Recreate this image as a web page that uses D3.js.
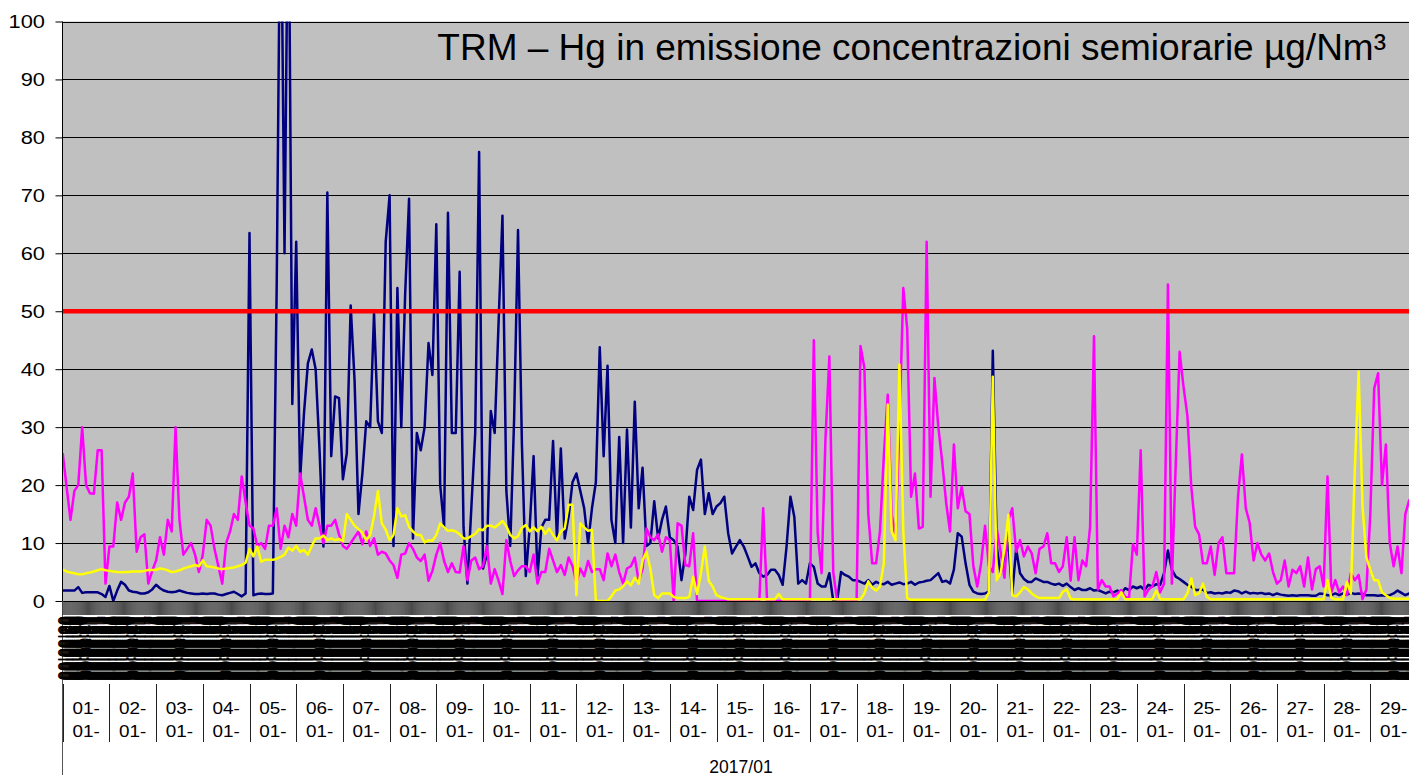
<!DOCTYPE html>
<html>
<head>
<meta charset="utf-8">
<script src="https://cdn.jsdelivr.net/npm/d3@7"></script>
<style>
  body { margin: 0; background: #fff; }
  svg { display: block; }
  text { font-family: "Liberation Sans", Arial, sans-serif; fill: #000; }
</style>
</head>
<body>
<div id="chart"></div>
<script>
// TRM - Hg in emissione, concentrazioni semiorarie (values read off the picture,
// one value every 2 hours, 12 per day, 29 days)

var chartTitle = "TRM \u2013 Hg in emissione concentrazioni semiorarie \u00b5g/Nm\u00b3";
var dayLabels = ["01-","02-","03-","04-","05-","06-","07-","08-","09-","10-",
                 "11-","12-","13-","14-","15-","16-","17-","18-","19-","20-",
                 "21-","22-","23-","24-","25-","26-","27-","28-","29-"];
var monthLabel = "01-";
var periodLabel = "2017/01";
var yTicks = [0, 10, 20, 30, 40, 50, 60, 70, 80, 90, 100];
var limitValue = 50;
var pointsPerDay = 12;

// dark blue series
var navyValues = [
  1.8,1.8,1.8,1.8,2.4,1.4,1.5,1.5,1.5,1.5,1.2,0.7,
  2.6,0,1.8,3.3,2.8,1.8,1.6,1.5,1.3,1.3,1.5,2.0,
  2.8,2.2,1.8,1.6,1.5,1.6,1.8,1.6,1.4,1.3,1.2,1.2,
  1.3,1.2,1.3,1.3,1.1,1.0,1.2,1.4,1.6,1.2,0.8,1.3,
  63.5,1.0,1.2,1.3,1.2,1.2,1.3,55,130,60,130,34,
  62,21,32.4,41,43.4,40,26,9.4,70.5,25,35.3,35,
  21,25.5,51,38,15,22,31,30,49.6,31,29,62,
  70,9.5,54,30,53,69.4,10.8,29,26,30,44.5,39,
  65,20,12.7,67,29,29,56.8,12.7,3,16,29,77.5,
  5.6,8,32.8,29,48,66.5,19,9.5,31.5,64,27,4.3,
  12.7,25,4.3,12.7,14,14,27.6,10.8,26.3,10.8,14.6,20.5,
  22,19,16,10,16,20.5,43.8,25,40.6,14,10,28.3,
  10,29.6,12.7,34.4,16,23,9.5,10,17.2,10.8,14,16.3,
  11,10.5,9.4,3.6,8.2,18,15.7,22.6,24.4,15,18.6,15,
  16.3,16.9,18,11.7,8.2,9.4,10.5,9.4,7.7,5.9,6.5,4.8,
  4.2,4.5,5.4,5.4,4.5,2.8,9.4,18,14.5,3,3.6,3,
  6.5,5.9,3,2.5,2.5,4.8,0,0,5,4.5,4.2,3.6,
  3.6,3.3,3,3.6,2.8,3.3,3,2.9,3.3,2.8,3,3.2,
  2.9,3,3.3,2.8,3.2,3.3,3.5,3.6,4.2,4.8,3.3,3.5,
  3,5.4,11.7,11.1,6.5,2.8,1.6,1.3,1.2,1.3,1.6,43.2,
  9.4,4.8,7.7,10,1.3,9,4.8,3.8,3.3,3.3,3.9,3.6,
  3.3,3.3,3,2.8,3,2.6,3,2.4,1.9,2.2,1.9,1.9,
  2.2,1.8,1.9,1.6,1.3,1.6,1.5,1.8,1.3,2.2,1.9,2.5,
  2.2,2.5,1.9,2.8,2.5,2.9,2.8,4.8,8.7,5.4,4.2,3.8,
  3.3,2.8,2.5,1.9,1.9,2,1.4,1.5,1.3,1.4,1.3,1.5,
  1.4,1.8,1.7,1.3,1.6,1.3,1.4,1.3,1.4,1.2,1.3,1.0,
  1.3,1.1,1.0,0.9,1.0,0.9,1.0,1.0,1.0,0.9,0.9,1.3,
  1.2,1.0,1.0,1.3,1.0,1.3,1.1,1.4,1.2,1.3,1.2,1.0,
  1.0,1.0,0.9,1.0,0.9,1.0,1.3,1.8,1.4,1.0,1.3,1.4
];

// magenta series
var magentaValues = [
  25.5,19.7,14,19,20,30,20,18.6,18.5,26,26,3,
  9.4,9.4,17,14,17,18,22,8.5,11,11.5,3,5.2,
  7,11,8,14,12,30,14,8,9,10,8,5,
  8,14,13,9,6,3,10,12,15,14,21.5,17,
  13,12.5,9.5,10,9,13,13,16,9,13,11,15,
  13,22,18,14,13,16,13,10,13,13,14,11.5,
  9.5,9,10,11,12,9.8,12,9.5,10.8,8,8.5,8.2,
  7,6.2,4,8,8.2,10,9,7.5,6.9,8,3.5,5.2,
  8,10,6.9,5,6.5,5,4.9,9.5,3.6,7,7.5,5.5,
  6,9.5,3,5.5,3.5,1.2,10.5,6.9,4.3,5.3,6,6,
  5,8,3,5,5,9,7,5,6.2,4.5,7.5,6,
  3.2,5.6,4.3,6.9,5,5.5,5.5,3.6,8.2,6,8,5,
  3,5.6,6,7.5,3.5,5.5,12.5,11,10.5,11.5,8.5,11,
  10.5,0,13.4,13,6.2,6,11.7,0,0,0,0,0,
  0,0,0,0,0,0,0,0,0,0,0,0,
  16,0,0,0,0,0,0,0,0,0,0,0,
  0,45,11.7,4.8,28,42.2,5,0,0,0,0,0,
  0,44,40.2,15,6.5,6.5,12,25,35.6,15,11,30,
  54,47,18,22,12.5,12.8,62,18,38.5,30,24,17,
  12,27,16,19.7,15.5,15,6,2.5,6.5,13,6,5,
  12.5,8.5,4,14,16,8.5,10.5,7.7,9.4,8.2,4.8,9,
  9.4,11.7,6.5,6.5,5,6,11,3.5,11,3.6,7,6,
  12.8,45.7,2,3.6,2.5,2.5,0.8,1.3,1.9,0.7,0.5,9.8,
  8,26,0.8,2,2.5,5,1.5,3,54.6,3,23.5,43,
  37,32,19.7,12.8,11.5,6.5,6.5,9.4,4.5,10,11,4.8,
  4.8,4.8,18,25.3,16,13.5,7,10,8,7,8.2,5,
  3,3.6,7,2.5,5.4,4.8,6,2.5,7.5,2,5.5,6,
  2.5,21.5,1.5,3.6,1.5,2.5,1,4.8,3.6,4.5,0.3,2,
  15,36.7,39.3,20,27,10,6,9.4,4.8,15,17.4,15
];

// yellow series
var yellowValues = [
  5.4,5.1,4.9,4.8,4.6,4.6,4.8,4.9,5.1,5.3,5.5,5.3,
  5.2,5.1,5.0,4.95,5.0,5.0,5.1,5.1,5.1,5.2,5.35,5.35,
  5.4,5.6,5.5,5.3,5.0,5.1,5.3,5.6,5.8,6.0,6.2,6.0,
  7.0,6.0,5.9,5.8,5.6,5.5,5.6,5.7,5.8,6.0,6.2,6.6,
  9,7.7,9.4,6.8,7.1,7.1,7.1,7.3,7.6,8.0,9.2,8.7,
  9.5,8.5,8.8,8.0,9.5,10.8,10.8,11.3,10.5,10.8,10.5,10.7,
  10.3,15.0,14,13,12.4,11.8,10.5,11.4,14.6,19,13.4,12.3,
  10.5,11.4,16,14.6,14.8,12.8,12,11.4,11.4,10.1,10.5,10.4,
  11.4,13.4,12.7,12.1,12.2,12,11.5,10.8,10.8,11.2,11.6,12.4,
  12.2,13,13,12.7,13.2,13.8,12.9,11.4,10.8,11.2,12.6,13.1,
  12,12.7,12,12.8,11.6,12.5,11.4,10.5,12,12.5,16.6,16.6,
  1,13.4,12.7,12.1,12.3,0,0,0,0,0.8,1.8,2,
  2.5,3.4,2.7,4,3,7,8.5,5.6,1,0.5,1.3,1.3,
  1.3,0.7,0.5,0.5,0.5,0.7,4.2,1.2,4.8,9.4,3.5,2.5,
  1,0.7,0.5,0.3,0.3,0.3,0.3,0.3,0.3,0.3,0.3,0.3,
  0.3,0.3,0.3,0.3,1.2,0.3,0.3,0.3,0.3,0.3,0.3,0.3,
  0.3,0.3,0.3,0.3,0.3,0.3,0.3,0.3,0.3,0.3,0.3,0.3,
  0.3,0.3,1.3,3.4,2.3,1.8,2.5,6.5,33.9,12,10.5,40.8,
  12,0.5,0.2,0.2,0.2,0.2,0.2,0.2,0.2,0.2,0.2,0.2,
  0.2,0.2,0.2,0.2,0.2,0.2,0.2,0.2,0.2,0.2,1.5,38.7,
  3.6,4.8,9,14.9,1.0,0.8,1.5,2.4,2.0,1.3,0.8,0.5,
  0.5,0.5,0.5,0.5,0.5,1.6,2.0,0.4,0.3,0.3,0.3,0.3,
  0.3,0.3,0.3,0.3,0.3,0.3,0.3,0.3,1.5,0.3,0.3,0.3,
  0.3,0.3,0.3,0.3,0.3,1.8,0.3,0.3,0.3,0.3,0.3,0.3,
  0.3,1.3,3.9,1.0,1.3,3.0,0.7,0.3,0.3,0.3,0.3,0.3,
  0.3,0.3,0.3,0.3,0.3,0.3,0.3,0.3,0.3,0.3,0.3,0.3,
  0.3,0.3,0.3,0.3,0.3,0.3,0.3,0.3,0.3,0.3,0.3,0.3,
  0.3,3.6,0.5,0.3,0.3,0.3,3.3,1.3,22.3,39.6,16.3,7.5,
  5.4,3.6,3.6,1.5,1.0,0.5,0.4,0.4,0.4,0.4,0.4,0.4
];

var seriesList = [
  { name: "navy", values: navyValues, color: "#000080" },
  { name: "magenta", values: magentaValues, color: "#FF00FF" },
  { name: "yellow", values: yellowValues, color: "#FFFF00" }
];

// half-hour labels of the crowded time axis
var halfHourLabels = d3.range(48).map(function(i) {
  var h = Math.floor(i / 2), m = (i % 2) * 30;
  return (h < 10 ? "0" : "") + h + ":" + (m ? "30" : "00") + ":00";
});

// ---- layout ----
var svgWidth = 1409, svgHeight = 775;
var plotLeft = 62.7, plotTop = 21.5, plotBottom = 601;
var dayWidth = 46.7;
var nDays = dayLabels.length;

var svg = d3.select("#chart").append("svg")
  .attr("width", svgWidth)
  .attr("height", svgHeight);

svg.append("rect").attr("width", svgWidth).attr("height", svgHeight).attr("fill", "#fff");

var xScale = d3.scaleLinear()
  .domain([0, nDays])
  .range([plotLeft, plotLeft + nDays * dayWidth]);

var yScale = d3.scaleLinear()
  .domain([0, 100])
  .range([plotBottom, plotTop]);

// clip for the plot area
svg.append("defs").append("clipPath").attr("id", "plotClip")
  .append("rect")
  .attr("x", plotLeft).attr("y", plotTop)
  .attr("width", svgWidth - plotLeft).attr("height", plotBottom - plotTop);

// grey plot background
svg.append("rect")
  .attr("x", plotLeft).attr("y", plotTop)
  .attr("width", svgWidth - plotLeft).attr("height", plotBottom - plotTop)
  .attr("fill", "#C0C0C0");

// horizontal gridlines
svg.append("g").selectAll("line")
  .data(yTicks.filter(function(v) { return v > 0; }))
  .enter().append("line")
  .attr("x1", plotLeft).attr("x2", svgWidth)
  .attr("y1", function(d) { return Math.round(yScale(d)) + 0.5; })
  .attr("y2", function(d) { return Math.round(yScale(d)) + 0.5; })
  .attr("stroke", "#000").attr("stroke-width", 1);

// title inside the plot
svg.append("text")
  .attr("x", 1386).attr("y", 60)
  .attr("text-anchor", "end")
  .style("font-size", "37px")
  .text(chartTitle);

// series lines
var line = d3.line()
  .x(function(d, i) { return xScale(i / pointsPerDay); })
  .y(function(d) { return yScale(d); });

var seriesGroup = svg.append("g").attr("clip-path", "url(#plotClip)");
seriesList.forEach(function(s) {
  seriesGroup.append("path")
    .datum(s.values)
    .attr("d", line)
    .attr("fill", "none")
    .attr("stroke", s.color)
    .attr("stroke-width", 2.5)
    .attr("stroke-linejoin", "round");
});

// limit line at 50
svg.append("line")
  .attr("x1", plotLeft).attr("x2", svgWidth)
  .attr("y1", yScale(limitValue)).attr("y2", yScale(limitValue))
  .attr("stroke", "#FF0000").attr("stroke-width", 4.5);

// y axis
var axisX = Math.floor(plotLeft) + 0.5;
var leftAxis = d3.axisLeft(yScale)
  .tickValues(yTicks)
  .tickSize(7)
  .tickSizeOuter(0)
  .tickPadding(8.2);

var yAxisGroup = svg.append("g")
  .attr("transform", "translate(" + axisX + ",0)")
  .call(leftAxis);
yAxisGroup.select(".domain").remove();
yAxisGroup.selectAll("line").attr("stroke", "#000");
yAxisGroup.selectAll("text")
  .style("font-size", "19px")
  .attr("transform", "scale(1.15,1)");

svg.append("line")
  .attr("x1", axisX).attr("x2", axisX)
  .attr("y1", plotTop).attr("y2", plotBottom)
  .attr("stroke", "#000");
svg.append("line")
  .attr("x1", axisX).attr("x2", axisX)
  .attr("y1", plotBottom).attr("y2", svgHeight)
  .attr("stroke", "#555");

// crowded half-hour axis: ticks between slots, labels at slot centres
var slotCount = nDays * 48;
var slotScale = d3.scaleLinear()
  .domain([0, slotCount])
  .range([plotLeft, plotLeft + nDays * dayWidth]);

var slotTicks = d3.axisBottom(slotScale)
  .tickValues(d3.range(0, slotCount + 1))
  .tickSize(14)
  .tickSizeOuter(0)
  .tickFormat("");
var slotTickGroup = svg.append("g")
  .attr("transform", "translate(0," + plotBottom + ")")
  .call(slotTicks);
slotTickGroup.select(".domain").attr("stroke", "#000");
slotTickGroup.selectAll(".tick line")
  .attr("stroke", "#000").attr("stroke-opacity", 0.7).attr("stroke-width", 1);

var slotLabels = d3.axisBottom(slotScale)
  .tickValues(d3.range(0, slotCount).map(function(j) { return j + 0.5; }))
  .tickSize(0)
  .tickFormat(function(d) { return halfHourLabels[Math.floor(d) % 48]; });
var slotLabelGroup = svg.append("g")
  .attr("transform", "translate(0," + plotBottom + ")")
  .call(slotLabels);
slotLabelGroup.select(".domain").remove();
slotLabelGroup.selectAll("text")
  .attr("y", 0)
  .attr("x", 15)
  .attr("dy", "0.35em")
  .attr("transform", "rotate(90)")
  .style("text-anchor", "start")
  .style("font-size", "16.5px");

// day separators and day labels
svg.append("g").selectAll("line")
  .data(d3.range(0, nDays + 1))
  .enter().append("line")
  .attr("x1", function(d) { return Math.round(xScale(d)) + 0.5; })
  .attr("x2", function(d) { return Math.round(xScale(d)) + 0.5; })
  .attr("y1", 684).attr("y2", 742)
  .attr("stroke", "#222");

var dayGroup = svg.append("g");
dayLabels.forEach(function(lbl, d) {
  var cx = xScale(d + 0.5);
  dayGroup.append("text")
    .attr("transform", "translate(" + cx + ",714) scale(1.18,1)")
    .attr("text-anchor", "middle")
    .style("font-size", "16px")
    .text(lbl);
  dayGroup.append("text")
    .attr("transform", "translate(" + cx + ",736.7) scale(1.18,1)")
    .attr("text-anchor", "middle")
    .style("font-size", "16px")
    .text(monthLabel);
});

// month label
svg.append("text")
  .attr("x", 741).attr("y", 773)
  .attr("text-anchor", "middle")
  .style("font-size", "17.5px")
  .text(periodLabel);
</script>
</body>
</html>
